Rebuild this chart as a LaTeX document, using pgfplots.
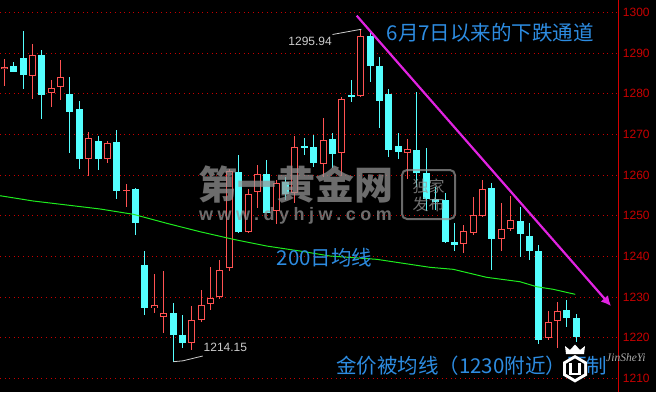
\documentclass[border=0pt]{standalone}
\usepackage{pgfplots}
\pgfplotsset{compat=1.18}
\usepackage{pgfplotstable}
\usepackage{fontspec}
\setmainfont{Liberation Sans}
\newfontfamily\cjk{Noto Sans CJK SC}
\newfontfamily\serifit{Liberation Serif}
\usetikzlibrary{arrows.meta}

\definecolor{upred}{RGB}{255,82,82}
\definecolor{dncyan}{RGB}{84,255,255}
\definecolor{gridred}{RGB}{200,0,0}
\definecolor{axred}{RGB}{210,0,0}
\definecolor{ticktxt}{RGB}{200,0,0}
\definecolor{txtblue}{RGB}{45,140,225}
\definecolor{magline}{RGB}{225,35,225}
\definecolor{magreen}{RGB}{30,235,30}
\definecolor{annogray}{RGB}{205,205,205}
\definecolor{wmgray}{RGB}{150,150,150}

\pgfplotstableread{
x o h l c
0 1286.2 1288.6 1282.0 1286.7
3 1284.46 1292.25 1278.73 1289.47
5 1280.28 1283.40 1276.83 1281.43
6 1281.75 1288.32 1278.55 1284.06
9 1264.04 1270.61 1259.86 1269.13
11 1264.04 1268.40 1263.06 1267.83
13 1256.20 1257.82 1252.09 1256.35
16 1227.40 1235.69 1226.17 1227.99
17 1225.19 1236.42 1221.25 1226.02
20 1218.79 1227.82 1217.07 1224.37
21 1224.45 1231.82 1223.90 1227.99
22 1228.23 1237.41 1226.91 1229.71
23 1229.96 1239.13 1229.50 1236.67
24 1237.09 1261.44 1236.50 1261.09
26 1245.94 1256.52 1245.70 1255.36
27 1255.93 1262.49 1251.84 1260.21
29 1251.18 1258.80 1247.91 1257.99
31 1255.53 1269.63 1253.22 1266.85
34 1262.86 1274.13 1259.62 1268.52
36 1265.57 1279.29 1259.79 1278.73
38 1279.54 1295.94 1279.30 1294.22
43 1265.57 1268.84 1259.17 1266.35
49 1242.99 1247.74 1240.92 1246.19
50 1245.84 1254.70 1245.28 1250.20
51 1249.95 1258.80 1249.78 1256.52
53 1244.22 1253.07 1241.42 1246.68
54 1246.75 1254.87 1246.34 1248.97
58 1220.02 1226.66 1219.53 1223.81
59 1224.05 1228.73 1217.56 1226.66
}\upcandles

\pgfplotstableread{
x o h l c
1 1286.84 1287.83 1285.37 1285.37
2 1288.81 1295.45 1281.19 1284.70
4 1289.55 1290.78 1273.88 1279.71
7 1279.96 1284.14 1265.52 1275.60
8 1276.27 1278.23 1261.58 1264.04
10 1268.40 1269.63 1261.34 1264.04
12 1268.15 1271.10 1254.21 1256.17
14 1256.59 1256.84 1245.35 1248.30
15 1237.90 1241.34 1225.68 1227.40
18 1226.10 1228.55 1214.15 1220.76
19 1220.68 1225.60 1217.56 1218.71
25 1260.77 1264.95 1245.90 1246.09
28 1260.28 1263.72 1250.60 1250.76
30 1258.31 1259.47 1253.89 1255.36
32 1267.17 1269.06 1264.95 1266.60
33 1266.85 1269.80 1262.10 1262.91
35 1268.84 1270.29 1261.68 1265.25
37 1279.59 1283.40 1277.91 1279.34
39 1294.22 1294.88 1282.83 1286.92
40 1286.92 1289.13 1271.52 1278.31
41 1279.96 1281.11 1264.58 1266.31
42 1267.22 1270.29 1263.90 1265.76
44 1266.18 1280.37 1257.16 1260.60
45 1260.60 1266.60 1251.25 1254.06
46 1254.06 1257.16 1251.43 1253.47
47 1253.89 1255.53 1243.24 1243.63
48 1243.56 1248.15 1241.42 1242.82
52 1256.84 1258.14 1236.67 1244.29
55 1248.72 1252.24 1239.79 1245.60
56 1245.03 1248.15 1239.20 1241.42
57 1241.34 1242.82 1218.54 1219.53
60 1226.83 1229.29 1222.73 1224.94
61 1224.86 1225.85 1219.04 1220.27
}\downcandles

\begin{document}
\begin{tikzpicture}
\fill[black] (0,0) rectangle (656pt,392pt);
\begin{axis}[
  at={(0,0)}, anchor=south west,
  scale only axis, width=618.3pt, height=392pt,
  xmin=-0.459, xmax=65.48, ymin=1206.67, ymax=1303.07,
  axis x line=none, axis y line*=right,
  y axis line style={draw=axred, line width=1pt, -},
  ytick={1210,1220,...,1300},
  yticklabels={1210,1220,1230,1240,1250,1260,1270,1280,1290,1300},
  major tick length=0pt,
  yticklabel style={font=\fontsize{12}{14}\selectfont, text=ticktxt, anchor=west, inner sep=0pt, xshift=4.4pt},
  ymajorgrids,
  grid style={draw=gridred, line width=1pt, dash pattern=on 1pt off 3.6pt},
  clip=true,
]
% up candles
\addplot[draw=none, mark=none, forget plot,
  error bars/.cd, y dir=both, y explicit, error mark=none,
  error bar style={draw=upred, line width=1pt}]
  table[x=x, y expr={(\thisrow{h}+\thisrow{l})/2}, y error expr={(\thisrow{h}-\thisrow{l})/2}] {\upcandles};
\addplot[draw=none, mark=none, forget plot,
  error bars/.cd, y dir=both, y explicit, error mark=none,
  error bar style={draw=upred, line width=7pt}]
  table[x=x, y expr={(\thisrow{o}+\thisrow{c})/2}, y error expr={max(abs(\thisrow{c}-\thisrow{o})/2,0.14)}] {\upcandles};
\addplot[draw=none, mark=none, forget plot,
  error bars/.cd, y dir=both, y explicit, error mark=none,
  error bar style={draw=black, line width=5pt}]
  table[x=x, y expr={(\thisrow{o}+\thisrow{c})/2}, y error expr={max(abs(\thisrow{c}-\thisrow{o})/2-0.246,0)}] {\upcandles};
% down candles
\addplot[draw=none, mark=none, forget plot,
  error bars/.cd, y dir=both, y explicit, error mark=none,
  error bar style={draw=dncyan, line width=1pt}]
  table[x=x, y expr={(\thisrow{h}+\thisrow{l})/2}, y error expr={(\thisrow{h}-\thisrow{l})/2}] {\downcandles};
\addplot[draw=none, mark=none, forget plot,
  error bars/.cd, y dir=both, y explicit, error mark=none,
  error bar style={draw=dncyan, line width=7pt}]
  table[x=x, y expr={(\thisrow{o}+\thisrow{c})/2}, y error expr={max(abs(\thisrow{c}-\thisrow{o})/2,0.14)}] {\downcandles};
% 200-day moving average
\addplot[magreen, line width=1pt, mark=none] coordinates {
(-0.46,1254.94) (3.09,1253.64) (6.65,1252.66) (10.21,1251.68) (13.76,1250.37)
(17.32,1248.16) (20.87,1246.09) (24.42,1244.22) (27.98,1242.57) (31.53,1241.34)
(34.73,1240.11) (39.71,1239.30) (45.40,1237.33) (47.88,1236.84) (51.44,1234.87)
(54.99,1233.79) (56.78,1232.56) (58.55,1231.92) (60.89,1230.69)};
\end{axis}

\begin{scope}[shift={(0pt,392pt)}, x=1pt, y=-1pt]
  % watermark
  \node[text=wmgray, text opacity=0.72, font=\cjk\bfseries\fontsize{39}{39}\selectfont, inner sep=0pt] at (296,185) {第一黄金网};
  \node[text=wmgray, text opacity=0.72, font=\bfseries\fontsize{18}{18}\selectfont\addfontfeature{LetterSpace=25}, inner sep=0pt, anchor=base west] at (199,220) {www.dyhjw.com};
  \draw[wmgray, draw opacity=0.7, line width=2pt, rounded corners=5pt] (402,170) rectangle (455,219);
  \node[text=wmgray, text opacity=0.75, font=\cjk\fontsize{16}{18}\selectfont, align=center, inner sep=0pt] at (428.5,195) {独家\\发布};
  % trend arrow
  \draw[magline, line width=2.2pt, -{Latex[length=10pt,width=10pt]}] (356.7,15.7) -- (611,306);
  % price annotations
  \draw[annogray, line width=0.8pt] (332.5,34.5) -- (356,30.2) -- (361.3,29.3);
  \node[text=annogray, font=\fontsize{12}{14}\selectfont, anchor=east, inner sep=0pt] at (332,41) {1295.94};
  \draw[annogray, line width=0.8pt] (173.3,361.7) -- (183,360.8) -- (202.7,356);
  \node[text=annogray, font=\fontsize{12}{14}\selectfont, anchor=west, inner sep=0pt] at (203.5,347.5) {1214.15};
  % blue texts
  \node[text=txtblue, font=\cjk\fontsize{20.5}{24}\selectfont, anchor=west, inner sep=0pt] at (386.5,33) {6月7日以来的下跌通道};
  \node[text=txtblue, font=\cjk\fontsize{20.5}{24}\selectfont, anchor=west, inner sep=0pt] at (276.5,257.5) {200日均线};
  \node[text=txtblue, font=\cjk\fontsize{20.5}{24}\selectfont, anchor=west, inner sep=0pt] at (336,366) {金价被均线（1230附近）压制};
  % logo
  \fill[white] (575,355) -- (587,362) -- (587,375.5) -- (575,382.5) -- (563,375.5) -- (563,362) -- cycle;
  \fill[black] (575,358.5) -- (584,363.8) -- (584,373.7) -- (575,379) -- (566,373.7) -- (566,363.8) -- cycle;
  \draw[white, line width=2.6pt] (570.5,362.5) -- (570.5,374) -- (579.5,374) -- (579.5,362.5);
  \fill[white] (566,354) -- (565,346) -- (570,350) -- (575,344.5) -- (580,350) -- (585,346) -- (584,354) -- cycle;
  \node[text=wmgray!80!white, font=\serifit\itshape\fontsize{11.5}{11.5}\selectfont, inner sep=0pt, anchor=west] at (606,357.5) {JinSheYi};
\end{scope}
\pgfresetboundingbox
\path[use as bounding box] (0,0) rectangle (656pt,392pt);
\end{tikzpicture}
\end{document}
